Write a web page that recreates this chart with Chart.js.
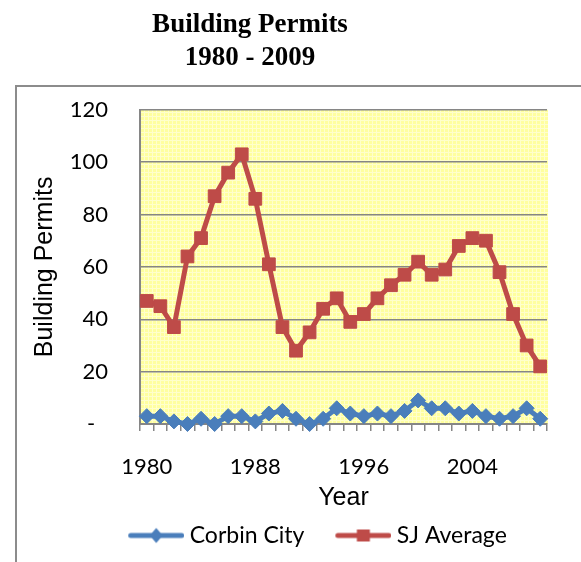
<!DOCTYPE html>
<html>
<head>
<meta charset="utf-8">
<script src="https://cdn.jsdelivr.net/npm/chart.js@4.4.1/dist/chart.umd.min.js"></script>
<style>
  html, body { margin: 0; padding: 0; background: #fff; }
  canvas { display: block; }
</style>
</head>
<body>
<canvas id="permitsChart" width="581" height="562"></canvas>
<script>
// values
const years = ['1980', '1981', '1982', '1983', '1984', '1985', '1986', '1987', '1988', '1989',
               '1990', '1991', '1992', '1993', '1994', '1995', '1996', '1997', '1998', '1999',
               '2000', '2001', '2002', '2003', '2004', '2005', '2006', '2007', '2008', '2009'];
const corbinCity = [3, 3, 1, 0, 2, 0, 3, 3, 1, 4, 5, 2, 0, 2, 6, 4, 3, 4, 3, 5,
                    9, 6, 6, 4, 5, 3, 2, 3, 6, 2];
const sjAverage = [47, 45, 37, 64, 71, 87, 96, 103, 86, 61, 37, 28, 35, 44, 48, 39, 42, 48, 53, 57,
                   62, 57, 59, 68, 71, 70, 58, 42, 30, 22];
const xTickLabels = ['1980', '1988', '1996', '2004'];
const yTickValues = [0, 20, 40, 60, 80, 100, 120];

const blue = '#4A7EBB';
const red = '#BE4B48';
const gray = '#868686';

// little yellow grid used as the plot area fill
const tile = document.createElement('canvas');
tile.width = 4; tile.height = 4;
const tctx = tile.getContext('2d');
tctx.fillStyle = '#ffff9f';
tctx.fillRect(0, 0, 4, 4);
tctx.fillStyle = '#ffffcc';
tctx.fillRect(0, 0, 4, 1);
tctx.fillRect(0, 0, 1, 4);

// legend icon: line with the marker in the middle
function legendIcon(color, square) {
    const c = document.createElement('canvas');
    c.width = 83; c.height = 18;
    const g = c.getContext('2d');
    g.strokeStyle = color;
    g.fillStyle = color;
    g.lineWidth = 5;
    g.lineCap = 'round';
    g.beginPath();
    g.moveTo(29.5, 9);
    g.lineTo(80.5, 9);
    g.stroke();
    const cx = 55, cy = 9;
    g.beginPath();
    if (square) {
        g.rect(cx - 6.5, cy - 6, 13, 12);
    } else {
        g.moveTo(cx, cy - 7.5); g.lineTo(cx + 6.5, cy); g.lineTo(cx, cy + 7.5); g.lineTo(cx - 6.5, cy);
        g.closePath();
    }
    g.fill();
    return c;
}
const legendIcons = [legendIcon(blue, false), legendIcon(red, true)];

const framePlugin = {
    id: 'framePlugin',
    afterLayout(chart) {
        chart.legend.left += 25; chart.legend.right += 25;
        chart.titleBlock.left -= 32; chart.titleBlock.right -= 32;
    },
    beforeDraw(chart) {
        const { ctx, chartArea: a } = chart;
        ctx.save();
        ctx.fillStyle = '#fff';
        ctx.fillRect(0, 0, chart.width, chart.height);
        ctx.strokeStyle = '#8c8c8c';
        ctx.lineWidth = 2;
        ctx.strokeRect(16, 86, 700, 700);
        ctx.fillStyle = ctx.createPattern(tile, 'repeat');
        ctx.fillRect(a.left, a.top, a.right - a.left + 1, a.bottom - a.top);
        ctx.restore();
    }
};

const ctx = document.getElementById('permitsChart').getContext('2d');
const permitsChart = new Chart(ctx, {
    type: 'line',
    data: {
        labels: years,
        datasets: [{
            label: 'Corbin City',
            data: corbinCity,
            borderColor: blue,
            backgroundColor: blue,
            borderWidth: 5,
            pointStyle: 'rectRot',
            pointRadius: 7.5,
            pointBorderWidth: 1,
            tension: 0,
            clip: false
        }, {
            label: 'SJ Average',
            data: sjAverage,
            borderColor: red,
            backgroundColor: red,
            borderWidth: 5,
            pointStyle: 'rect',
            pointRadius: 9,
            pointBorderWidth: 1,
            tension: 0,
            clip: false
        }]
    },
    options: {
        responsive: false,
        animation: false,
        devicePixelRatio: 1,
        layout: { padding: { left: 17, right: 34, top: 0, bottom: 5 } },
        plugins: {
            title: {
                display: true,
                text: ['Building Permits', '1980 - 2009'],
                color: '#000',
                font: { family: 'Liberation Serif', size: 27, weight: 'bold', lineHeight: 1.2 },
                padding: { top: 9, bottom: 36 }
            },
            legend: {
                position: 'bottom',
                labels: {
                    usePointStyle: true,
                    pointStyleWidth: 71,
                    padding: 10,
                    color: '#000',
                    font: { family: 'Lato', size: 23 },
                    generateLabels(chart) {
                        const items = Chart.defaults.plugins.legend.labels.generateLabels(chart);
                        items.forEach((item, i) => { item.pointStyle = legendIcons[i]; });
                        return items;
                    }
                }
            },
            tooltip: { enabled: false }
        },
        scales: {
            x: {
                offset: true,
                afterFit(scale) { scale.height = 90; },
                ticks: {
                    autoSkip: false,
                    maxRotation: 0,
                    padding: 23,
                    color: '#000',
                    font: { family: 'Lato', size: 22 },
                    callback(value, index) {
                        return xTickLabels.includes(years[index]) ? years[index] : '';
                    }
                },
                grid: { offset: true, drawOnChartArea: false, tickLength: 7, color: gray, lineWidth: 1.5 },
                border: { color: gray, width: 2 },
                title: {
                    display: true,
                    text: 'Year',
                    color: '#000',
                    font: { family: 'Liberation Sans', size: 25 },
                    padding: { top: 0, bottom: 1 }
                }
            },
            y: {
                min: yTickValues[0],
                max: yTickValues[yTickValues.length - 1],
                afterFit(scale) { scale.width = 123; },
                ticks: {
                    stepSize: 20,
                    padding: 32,
                    color: '#000',
                    font: { family: 'Lato', size: 22 },
                    callback: value => value === 0 ? '-\u2007' : value
                },
                grid: { color: gray, lineWidth: 1.5, drawTicks: false },
                border: { color: gray, width: 2 },
                title: {
                    display: true,
                    text: 'Building Permits',
                    color: '#000',
                    font: { family: 'Liberation Sans', size: 25 },
                    padding: { top: 13.5, bottom: 0 }
                }
            }
        }
    },
    plugins: [framePlugin]
});
</script>
</body>
</html>
